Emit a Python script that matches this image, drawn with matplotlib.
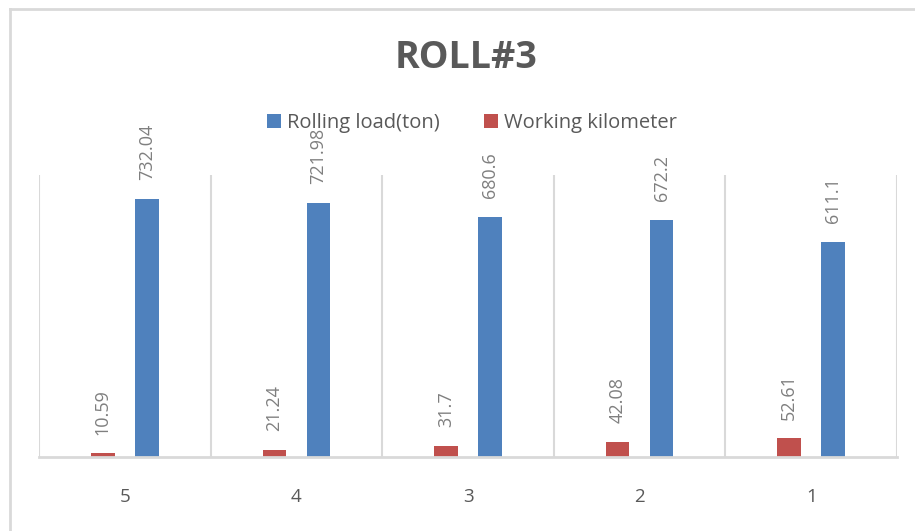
import matplotlib
matplotlib.use("Agg")
import matplotlib.pyplot as plt
import numpy as np
from matplotlib.lines import Line2D
from matplotlib.patches import Patch

categories = ["5", "4", "3", "2", "1"]
rolling_load = [732.04, 721.98, 680.6, 672.2, 611.1]
working_km = [10.59, 21.24, 31.7, 42.08, 52.61]
series_names = ["Rolling load(ton)", "Working kilometer"]

BLUE = "#4f81bd"
RED = "#c0504d"
GRID = "#d9d9d9"

plt.rcParams['font.family'] = ['Open Sans', 'DejaVu Sans']

fig = plt.figure(figsize=(9.15, 5.31), dpi=100)
ax = fig.add_axes([39/915, 1-457/531, (897-39)/915, (457-175)/531])

x = np.arange(len(categories))
w = 0.137
off = 0.128
b_red = ax.bar(x - off, working_km, width=w, color=RED, zorder=3)
b_blue = ax.bar(x + off, rolling_load, width=w, color=BLUE, zorder=3)

for bars, vals in ((b_red, working_km), (b_blue, rolling_load)):
    for r, v in zip(bars, vals):
        ax.annotate(f"{v:g}", (r.get_x() + r.get_width()/2, r.get_height()),
                    xytext=(0, 13.5), textcoords="offset points",
                    rotation=90, ha="center", va="bottom",
                    fontsize=13, color="#7f7f7f")

ax.set_xlim(-0.5, len(categories) - 0.5)
ax.set_ylim(0, 800)
ax.set_yticks([])
ax.set_xticks(x)
ax.set_xticklabels(categories, fontsize=13.5, color="#595959")
ax.tick_params(axis="x", length=0, pad=22)
for b in np.arange(-0.5, len(categories), 1.0):
    ax.axvline(b, color=GRID, lw=1.5, zorder=1)
for s in ["top", "left", "right"]:
    ax.spines[s].set_visible(False)
ax.spines["bottom"].set_color(GRID)
ax.spines["bottom"].set_linewidth(2)
ax.spines["bottom"].set_zorder(4)

fig.text(466/915, 1-58/531, "ROLL#3", ha="center", va="center",
         fontsize=27, fontweight="bold", color="#595959")

handles = [Patch(facecolor=BLUE), Patch(facecolor=RED)]
fig.legend(handles, series_names, loc="center", ncol=2,
           bbox_to_anchor=(472/915, 1-123/531), frameon=False,
           fontsize=14.5, labelcolor="#595959", handlelength=0.7,
           handleheight=0.7, handletextpad=0.3, columnspacing=2.2)

# outer chart frame
fig.add_artist(Line2D([10/915, 10/915], [0, 1-9/531], color=GRID, lw=2,
                      transform=fig.transFigure))
fig.add_artist(Line2D([10/915, 1], [1-9/531, 1-9/531], color=GRID, lw=2,
                      transform=fig.transFigure))

fig.savefig("out.png", dpi=100, facecolor="white")
